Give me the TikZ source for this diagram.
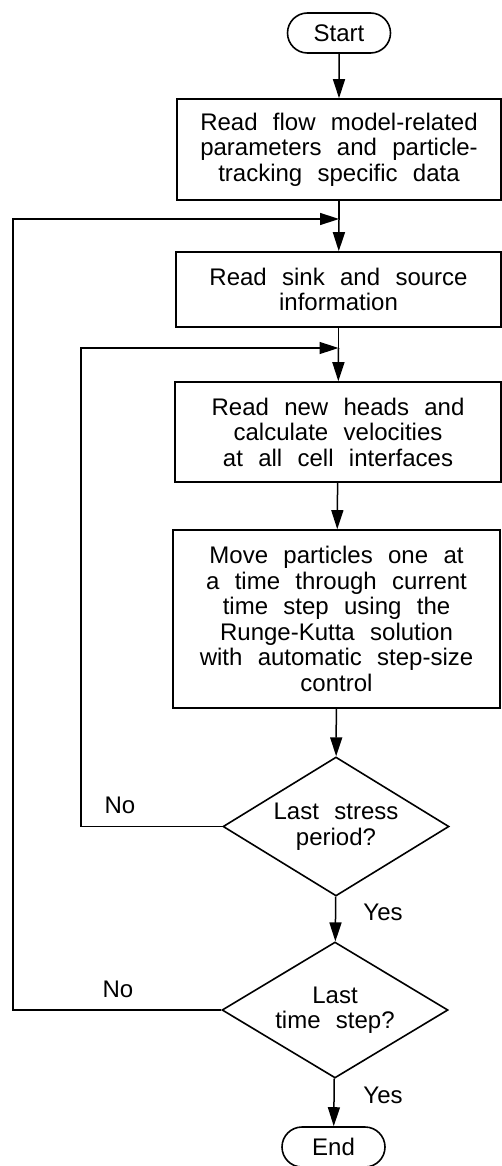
\documentclass[tikz,border=0pt]{standalone}
\usepackage{fontspec}
\setmainfont{Liberation Sans}[WordSpace={2.3,1,1}]
\usetikzlibrary{arrows.meta,shapes.geometric,shapes.misc}
\begin{document}
\begin{tikzpicture}[x=1pt,y=-1pt,
  every node/.style={font=\fontsize{24}{25.5}\selectfont, inner sep=0pt},
  box/.style={draw, line width=1.6pt, rectangle, align=center},
  term/.style={draw, line width=1.6pt, rounded rectangle, minimum width=103pt, minimum height=40pt},
  decide/.style={draw, line width=1.6pt, diamond, aspect=1.63, align=center},
  flow/.style={line width=1.5pt},
  arr/.style={flow, -{Triangle[length=19pt,width=12pt]}},
  lbl/.style={}
]
\useasboundingbox (0,0) rectangle (502,1166);

\node[term] (start) at (339,33) {Start};
\node[box, minimum width=324pt, minimum height=101pt] (b1) at (339,149.5)
  {Read flow model-related\\parameters and particle-\\tracking specific data};
\coordinate (j1) at (339,219);
\node[box, minimum width=325pt, minimum height=75pt] (b2) at (338.5,289.5)
  {Read sink and source\\information};
\coordinate (j2) at (338.5,348);
\node[box, minimum width=326pt, minimum height=100pt] (b3) at (338,432)
  {Read new heads and\\calculate velocities\\at all cell interfaces};
\node[box, minimum width=327pt, minimum height=178pt] (b4) at (336.5,619)
  {Move particles one at\\a time through current\\time step using the\\Runge-Kutta solution\\with automatic step-size\\control};
\node[decide, minimum width=226pt, minimum height=139pt] (d1) at (336,826.5)
  {Last stress\\period?};
\node[decide, minimum width=226pt, minimum height=136pt] (d2) at (335,1010)
  {Last\\time step?};
\node[term] (end) at (333.5,1147) {End};

\coordinate (il) at (81,348);
\coordinate (ol) at (13,219);

\draw[arr] (start) -- (b1);
\draw[flow] (b1) -- (j1);
\draw[arr] (j1) -- (b2);
\draw[flow] (b2) -- (j2);
\draw[arr] (j2) -- (b3);
\draw[arr] (b3) -- (b4);
\draw[arr] (b4) -- (d1);
\draw[arr] (d1) -- (d2);
\draw[arr] (d2) -- (end);
\draw[arr] (d1.west) -| (il) -- (j2);
\draw[arr] (d2.west) -| (ol) -- (j1);

\node[lbl] (no1) at (120,805) {No};
\node[lbl] (no2) at (118,989) {No};
\node[lbl] (yes1) at (383,912) {Yes};
\node[lbl] (yes2) at (383,1095) {Yes};
\end{tikzpicture}
\end{document}
